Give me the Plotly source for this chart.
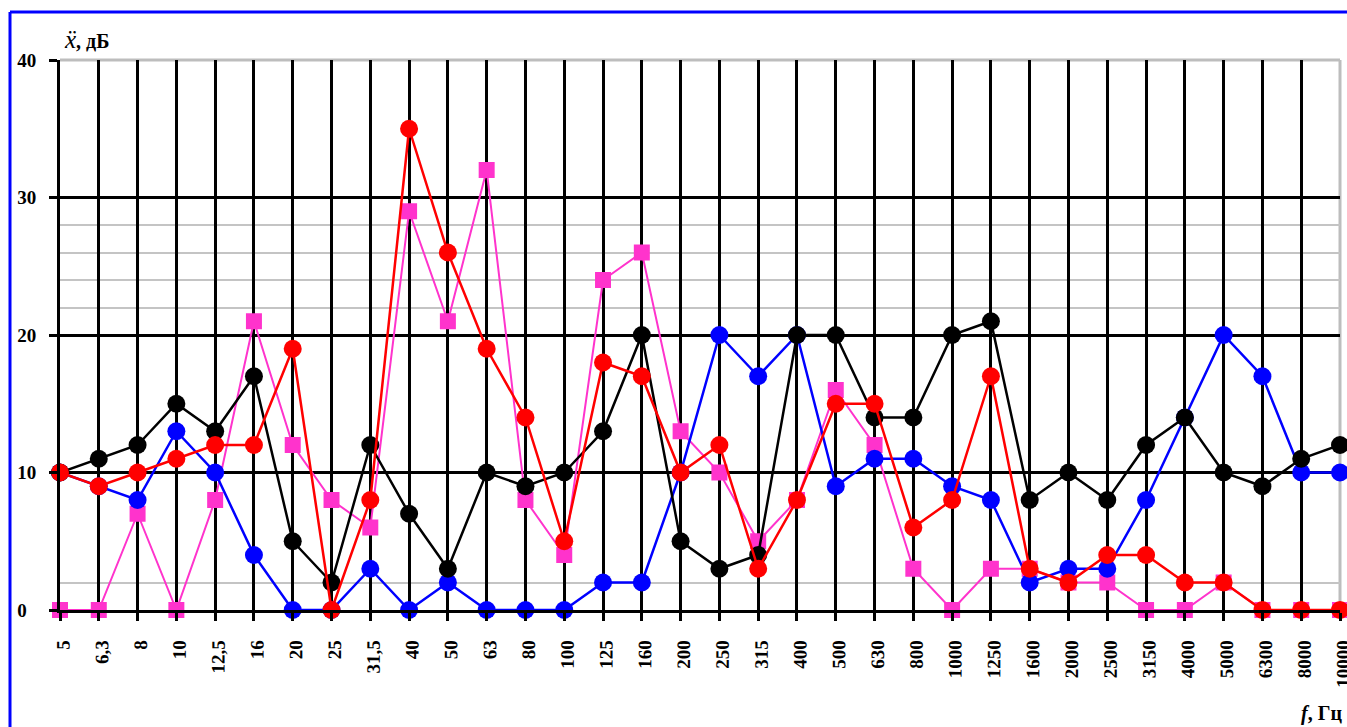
import plotly.graph_objects as go

# Octave-band centre frequencies, Hz
freq_labels = ["5", "6,3", "8", "10", "12,5", "16", "20", "25", "31,5", "40",
               "50", "63", "80", "100", "125", "160", "200", "250", "315", "400",
               "500", "630", "800", "1000", "1250", "1600", "2000", "2500", "3150",
               "4000", "5000", "6300", "8000", "10000"]

# Vibration acceleration levels, dB
series_magenta = [0, 0, 7, 0, 8, 21, 12, 8, 6, 29, 21, 32, 8, 4, 24, 26, 13, 10,
                  5, 8, 16, 12, 3, 0, 3, 3, 2, 2, 0, 0, 2, 0, 0, 0]
series_blue = [10, 9, 8, 13, 10, 4, 0, 0, 3, 0, 2, 0, 0, 0, 2, 2, 10, 20, 17, 20,
               9, 11, 11, 9, 8, 2, 3, 3, 8, 14, 20, 17, 10, 10]
series_black = [10, 11, 12, 15, 13, 17, 5, 2, 12, 7, 3, 10, 9, 10, 13, 20, 5, 3,
                4, 20, 20, 14, 14, 20, 21, 8, 10, 8, 12, 14, 10, 9, 11, 12]
series_red = [10, 9, 10, 11, 12, 12, 19, 0, 8, 35, 26, 19, 14, 5, 18, 17, 10, 12,
              3, 8, 15, 15, 6, 8, 17, 3, 2, 4, 4, 2, 2, 0, 0, 0]

y_major = [0, 10, 20, 30, 40]
y_major_text = ["0\u2007", "10", "20", "30", "40"]
y_minor = [2, 22, 24, 26, 28]

idx = list(range(len(freq_labels)))


def pad_label(s, width=5):
    # Left-pad with figure/punctuation spaces so every rotated label has the
    # same length and they all hang from the axis at the same height.
    n_comma = s.count(",")
    n_digit = len(s) - n_comma
    return "\u2007" * (width - n_digit - n_comma) + "\u2008" * n_comma + s


tick_text = [pad_label(s) for s in freq_labels]

FONT = "Liberation Serif, Times New Roman, DejaVu Serif, serif"

fig = go.Figure()

traces = [
    (series_magenta, "#FF33CC", "square", 16, 2),
    (series_blue, "#0000FF", "circle", 18, 2.5),
    (series_black, "#000000", "circle", 18, 2.5),
    (series_red, "#FF0000", "circle", 18, 2.5),
]
for vals, color, symbol, size, lw in traces:
    fig.add_trace(go.Scatter(
        x=idx, y=vals, mode="lines+markers",
        line=dict(color=color, width=lw),
        marker=dict(color=color, symbol=symbol, size=size, line=dict(width=0)),
        cliponaxis=False, showlegend=False,
    ))

fig.update_layout(
    width=1347, height=727,
    margin=dict(l=60, r=7, t=60, b=117, autoexpand=False),
    paper_bgcolor="white", plot_bgcolor="white",
    font=dict(family=FONT, color="black"),
    xaxis=dict(
        range=[0, len(freq_labels) - 1],
        tickmode="array", tickvals=idx, ticktext=tick_text,
        tickangle=-89.9,
        tickfont=dict(family=FONT, size=19, weight="bold", color="black"),
        ticklabeloverflow="allow",
        automargin=False,
        showgrid=True, gridcolor="black", gridwidth=3,
        zeroline=False,
        showline=True, linecolor="black", linewidth=3,
        ticks="outside", ticklen=8, tickwidth=3, tickcolor="black",
        ticklabelstandoff=6,
    ),
    yaxis=dict(
        range=[0, 40],
        tickmode="array", tickvals=y_major, ticktext=y_major_text,
        tickfont=dict(family=FONT, size=19, weight="bold", color="black"),
        automargin=False,
        showgrid=True, gridcolor="black", gridwidth=2.5,
        minor=dict(tickmode="array", tickvals=y_minor, showgrid=True,
                   gridcolor="#C4C4C4", gridwidth=1.5, ticks=""),
        zeroline=False,
        showline=True, linecolor="black", linewidth=3,
        ticks="outside", ticklen=8, tickwidth=2.5, tickcolor="black",
        ticklabelstandoff=9,
    ),
    shapes=[
        # grey frame on the top and right sides of the plot area
        dict(type="line", xref="paper", yref="paper", x0=0, x1=1, y0=1, y1=1,
             line=dict(color="#BDBDBD", width=3), layer="between"),
        dict(type="line", xref="paper", yref="paper", x0=1, x1=1, y0=0, y1=1,
             line=dict(color="#BDBDBD", width=3), layer="between"),
        # blue outer frame
        dict(type="line", xref="paper", yref="paper",
             x0=-50 / 1280, x1=1.1, y0=598 / 550, y1=598 / 550,
             line=dict(color="#0000FF", width=3), layer="above"),
        dict(type="line", xref="paper", yref="paper",
             x0=-50 / 1280, x1=-50 / 1280, y0=-0.3, y1=598 / 550,
             line=dict(color="#0000FF", width=3), layer="above"),
    ],
    annotations=[
        dict(xref="paper", yref="paper", x=2 / 1280, y=555 / 550,
             xanchor="left", yanchor="bottom", showarrow=False,
             text="<span style='font-size:25px'><i>ẍ</i></span><b>, дБ</b>",
             font=dict(family=FONT, size=20, color="black")),
        dict(xref="paper", yref="paper", x=1284 / 1280, y=-90 / 550,
             xanchor="right", yanchor="top", showarrow=False,
             text="<b><i>f</i>, Гц</b>",
             font=dict(family=FONT, size=20, color="black")),
    ],
)

fig.write_html("out.html")
